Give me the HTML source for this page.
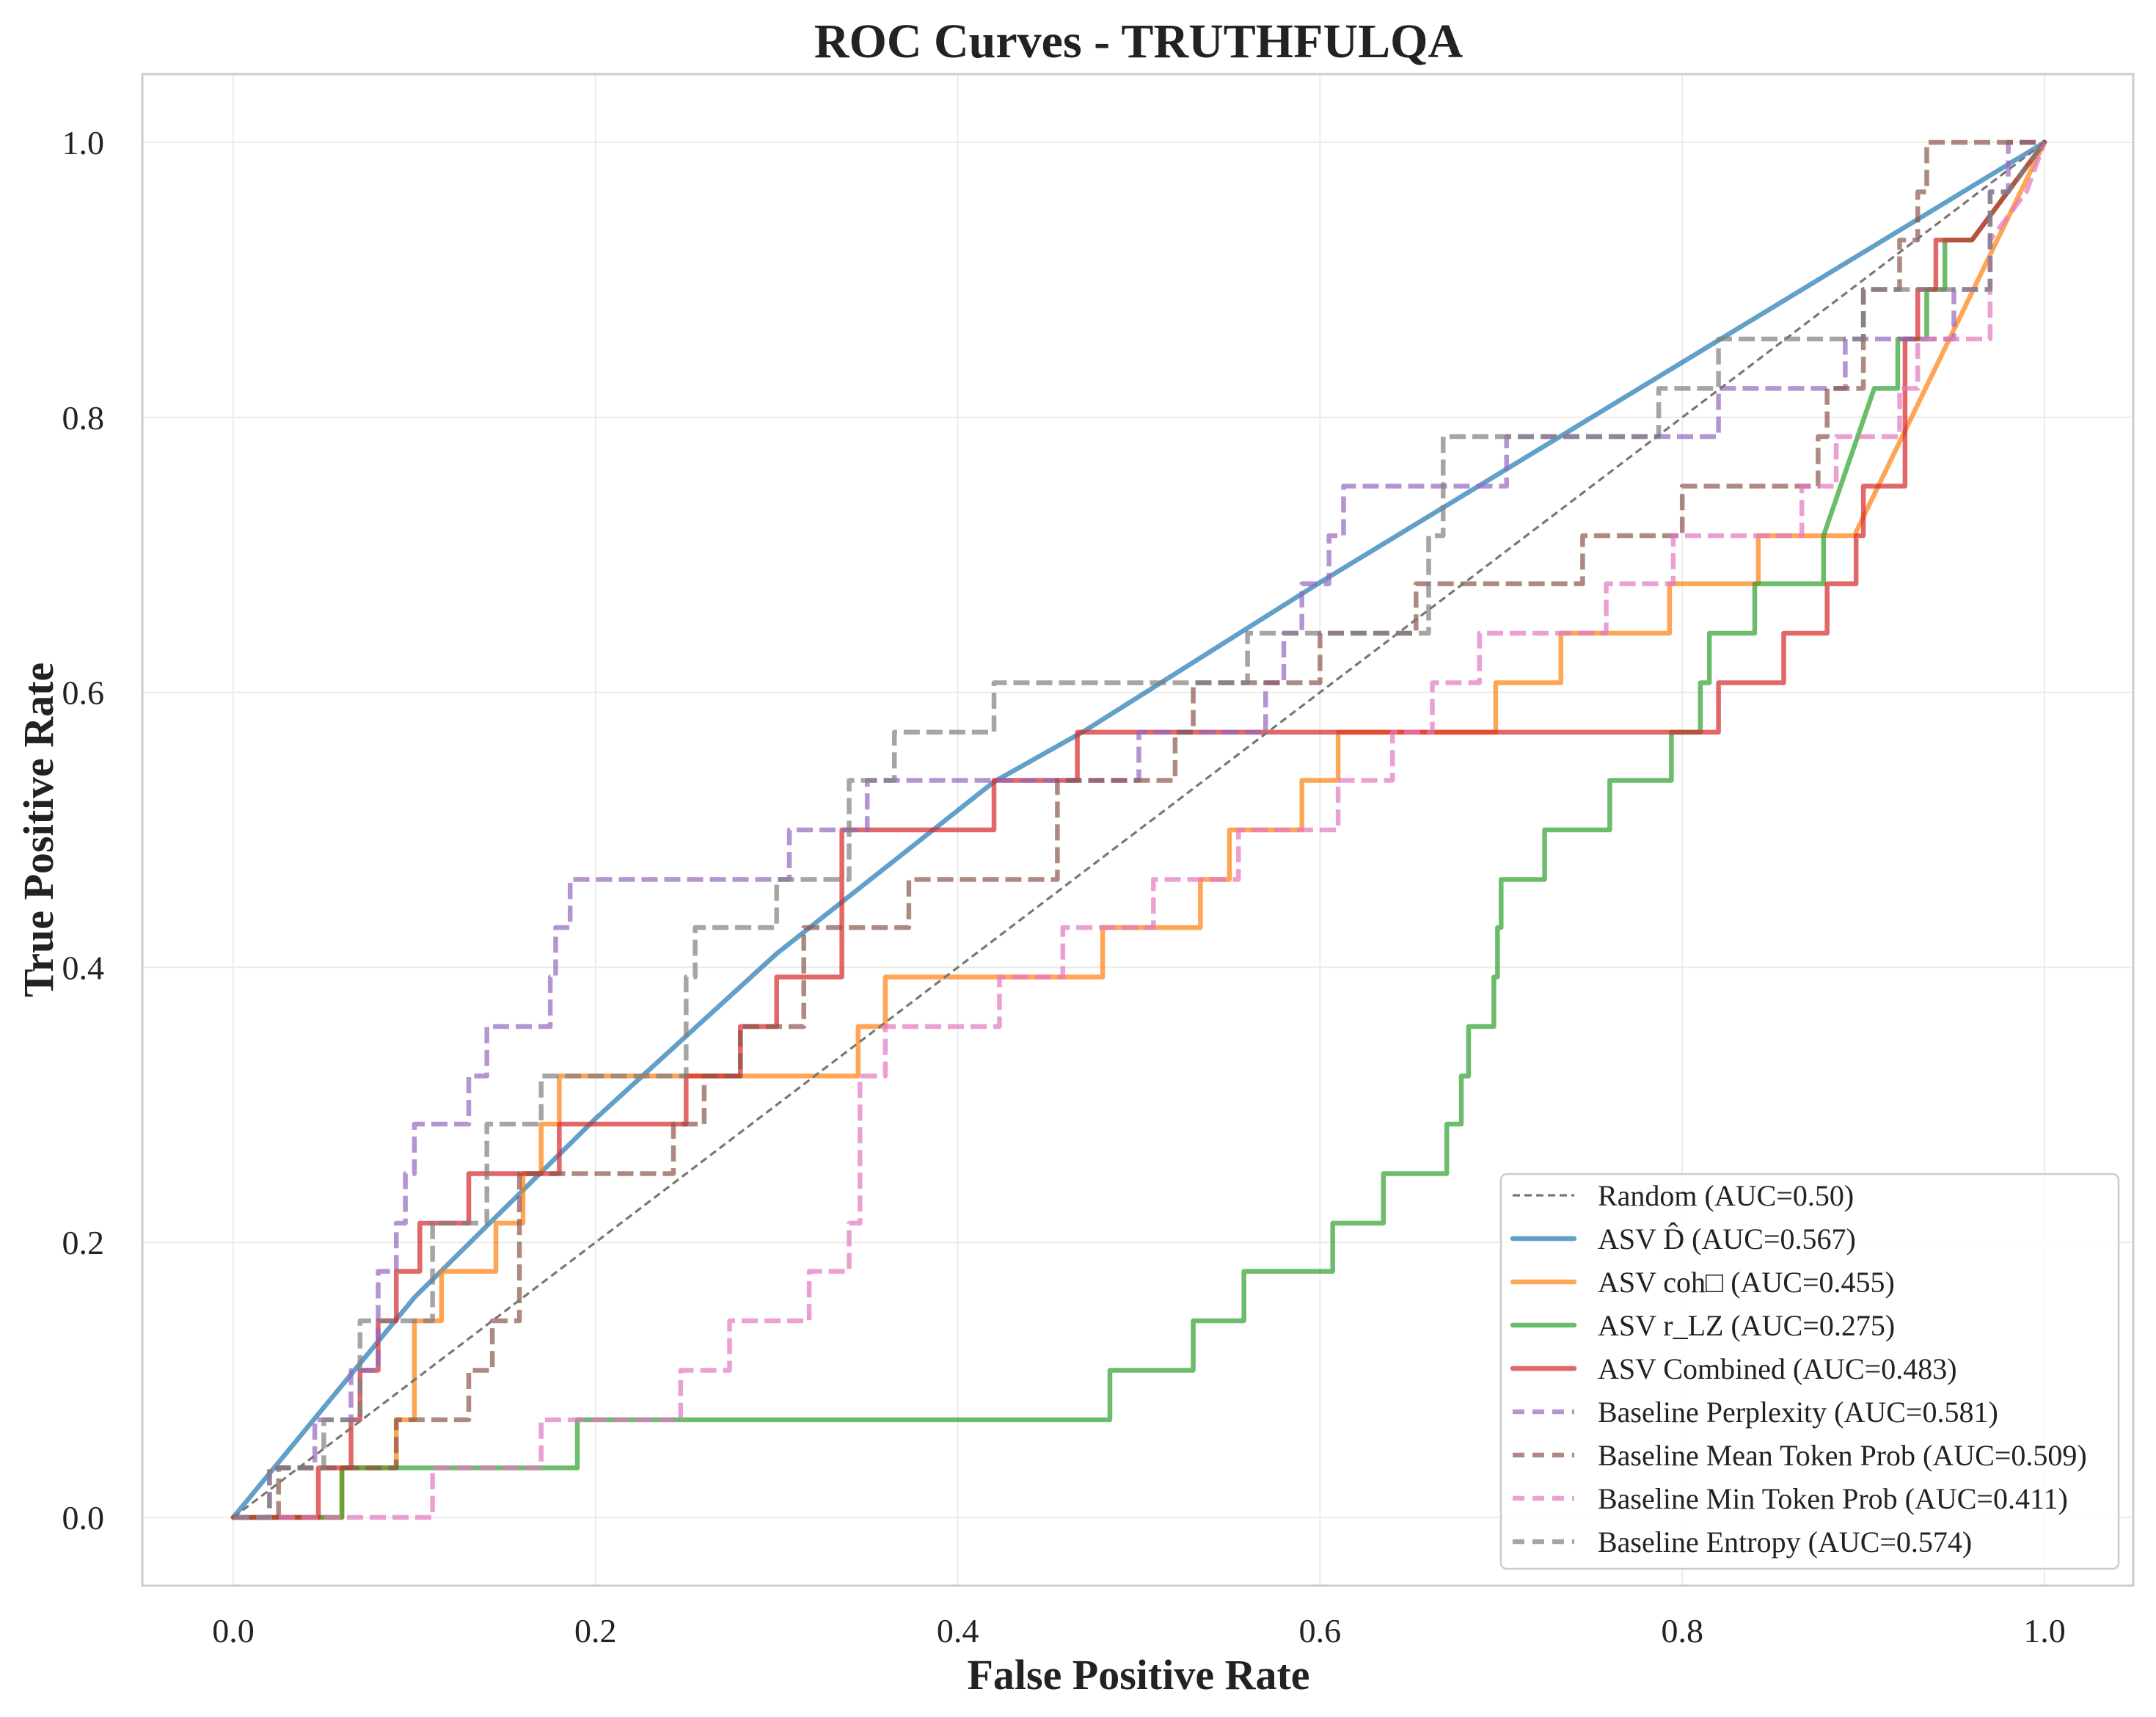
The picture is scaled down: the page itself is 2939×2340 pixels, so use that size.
<!DOCTYPE html>
<html><head><meta charset="utf-8"><style>
html,body{margin:0;padding:0;background:#fff}
svg{display:block;font-family:"Liberation Serif","DejaVu Serif",serif}
</style></head><body>
<svg id="chart" width="2939" height="2340" viewBox="0 0 2939 2340" xmlns="http://www.w3.org/2000/svg">
<rect x="0" y="0" width="2939" height="2340" fill="#fff"/>
<g id="grid"></g>
<g id="series"></g>
<rect x="194" y="101" width="2714" height="2060" fill="none" stroke="#cccccc" stroke-width="3"/>
<g id="ticks"></g>
<text x="1552" y="78" font-size="66" font-weight="bold" text-anchor="middle" fill="#222">ROC Curves - TRUTHFULQA</text>
<text x="1552" y="2302" font-size="58" font-weight="bold" text-anchor="middle" fill="#222">False Positive Rate</text>
<text transform="translate(72,1131) rotate(-90)" font-size="58" font-weight="bold" text-anchor="middle" fill="#222">True Positive Rate</text>
<g id="legend"></g>
</svg>
<script>
const xTicks=[0,0.2,0.4,0.6,0.8,1.0];
const yTicks=[0,0.2,0.4,0.6,0.8,1.0];
const seriesNames=["Random (AUC=0.50)","ASV D\u0302 (AUC=0.567)","ASV coh\u25A1 (AUC=0.455)","ASV r_LZ (AUC=0.275)","ASV Combined (AUC=0.483)","Baseline Perplexity (AUC=0.581)","Baseline Mean Token Prob (AUC=0.509)","Baseline Min Token Prob (AUC=0.411)","Baseline Entropy (AUC=0.574)"];
const randomFpr=[0,1];const randomTpr=[0,1];
const dFpr=[0,0.1,0.2,0.3,0.42,0.47,0.6,0.8,1];
const dTpr=[0,0.16,0.29,0.41,0.535,0.572,0.68,0.84,1];
const cohFpr=[0,0.06,0.06,0.09,0.09,0.1,0.1,0.115,0.115,0.145,0.145,0.16,0.16,0.17,0.17,0.18,0.18,0.345,0.345,0.36,0.36,0.48,0.48,0.534,0.534,0.55,0.55,0.59,0.59,0.61,0.61,0.697,0.697,0.733,0.733,0.793,0.793,0.842,0.842,0.878,0.895,1];
const cohTpr=[0,0,0.036,0.036,0.071,0.071,0.143,0.143,0.179,0.179,0.214,0.214,0.25,0.25,0.286,0.286,0.321,0.321,0.357,0.357,0.393,0.393,0.429,0.429,0.464,0.464,0.5,0.5,0.536,0.536,0.571,0.571,0.607,0.607,0.643,0.643,0.679,0.679,0.714,0.714,0.714,1];
const lzFpr=[0,0.06,0.06,0.19,0.19,0.484,0.484,0.53,0.53,0.558,0.558,0.607,0.607,0.635,0.635,0.67,0.67,0.678,0.678,0.682,0.682,0.696,0.696,0.698,0.698,0.7,0.7,0.724,0.724,0.76,0.76,0.794,0.794,0.81,0.81,0.815,0.815,0.84,0.84,0.878,0.878,0.906,0.906,0.919,0.919,0.935,0.935,0.945,0.945,0.96,1];
const lzTpr=[0,0,0.036,0.036,0.071,0.071,0.107,0.107,0.143,0.143,0.179,0.179,0.214,0.214,0.25,0.25,0.286,0.286,0.321,0.321,0.357,0.357,0.393,0.393,0.429,0.429,0.464,0.464,0.5,0.5,0.536,0.536,0.571,0.571,0.607,0.607,0.643,0.643,0.679,0.679,0.714,0.821,0.821,0.821,0.857,0.857,0.893,0.893,0.929,0.929,1];
const combFpr=[0,0.047,0.047,0.065,0.065,0.07,0.07,0.08,0.08,0.09,0.09,0.103,0.103,0.13,0.13,0.18,0.18,0.25,0.25,0.28,0.28,0.3,0.3,0.336,0.336,0.42,0.42,0.466,0.466,0.82,0.82,0.856,0.856,0.88,0.88,0.896,0.896,0.9,0.9,0.923,0.923,0.93,0.93,0.94,0.94,0.96,1];
const combTpr=[0,0,0.036,0.036,0.071,0.071,0.107,0.107,0.143,0.143,0.179,0.179,0.214,0.214,0.25,0.25,0.286,0.286,0.321,0.321,0.357,0.357,0.393,0.393,0.5,0.5,0.536,0.536,0.571,0.571,0.607,0.607,0.643,0.643,0.679,0.679,0.714,0.714,0.75,0.75,0.857,0.857,0.893,0.893,0.929,0.929,1];
const pplFpr=[0,0.02,0.02,0.045,0.045,0.065,0.065,0.08,0.08,0.09,0.09,0.095,0.095,0.1,0.1,0.13,0.13,0.14,0.14,0.175,0.175,0.178,0.178,0.186,0.186,0.307,0.307,0.35,0.35,0.5,0.5,0.57,0.57,0.58,0.58,0.59,0.59,0.605,0.605,0.613,0.613,0.703,0.703,0.82,0.82,0.89,0.89,0.95,0.95,0.97,0.97,0.98,0.98,1];
const pplTpr=[0,0,0.036,0.036,0.071,0.071,0.107,0.107,0.179,0.179,0.214,0.214,0.25,0.25,0.286,0.286,0.321,0.321,0.357,0.357,0.393,0.393,0.429,0.429,0.464,0.464,0.5,0.5,0.536,0.536,0.571,0.571,0.607,0.607,0.643,0.643,0.679,0.679,0.714,0.714,0.75,0.75,0.786,0.786,0.821,0.821,0.857,0.857,0.893,0.893,0.964,0.964,1,1];
const meanFpr=[0,0.025,0.025,0.09,0.09,0.13,0.13,0.143,0.143,0.158,0.158,0.243,0.243,0.26,0.26,0.28,0.28,0.315,0.315,0.373,0.373,0.455,0.455,0.52,0.52,0.53,0.53,0.6,0.6,0.653,0.653,0.745,0.745,0.8,0.8,0.875,0.875,0.88,0.88,0.9,0.9,0.92,0.92,0.93,0.93,0.935,0.935,1];
const meanTpr=[0,0,0.036,0.036,0.071,0.071,0.107,0.107,0.143,0.143,0.25,0.25,0.286,0.286,0.321,0.321,0.357,0.357,0.429,0.429,0.464,0.464,0.536,0.536,0.571,0.571,0.607,0.607,0.643,0.643,0.679,0.679,0.714,0.714,0.75,0.75,0.786,0.786,0.821,0.821,0.893,0.893,0.929,0.929,0.964,0.964,1,1];
const minFpr=[0,0.11,0.11,0.17,0.17,0.247,0.247,0.274,0.274,0.318,0.318,0.34,0.34,0.346,0.346,0.36,0.36,0.423,0.423,0.458,0.458,0.508,0.508,0.555,0.555,0.61,0.61,0.64,0.64,0.662,0.662,0.688,0.688,0.758,0.758,0.795,0.795,0.866,0.866,0.885,0.885,0.92,0.92,0.93,0.93,0.97,0.97,0.99,1];
const minTpr=[0,0,0.036,0.036,0.071,0.071,0.107,0.107,0.143,0.143,0.179,0.179,0.214,0.214,0.321,0.321,0.357,0.357,0.393,0.393,0.429,0.429,0.464,0.464,0.5,0.5,0.536,0.536,0.571,0.571,0.607,0.607,0.643,0.643,0.679,0.679,0.714,0.714,0.75,0.75,0.786,0.786,0.821,0.821,0.857,0.857,0.929,0.964,1];
const entFpr=[0,0.02,0.02,0.05,0.05,0.07,0.07,0.11,0.11,0.14,0.14,0.17,0.17,0.25,0.25,0.255,0.255,0.3,0.3,0.34,0.34,0.365,0.365,0.42,0.42,0.56,0.56,0.66,0.66,0.668,0.668,0.787,0.787,0.82,0.82,0.9,0.9,0.97,0.97,0.98,1];
const entTpr=[0,0,0.036,0.036,0.071,0.071,0.143,0.143,0.214,0.214,0.286,0.286,0.321,0.321,0.393,0.393,0.429,0.429,0.464,0.464,0.536,0.536,0.571,0.571,0.607,0.607,0.643,0.643,0.714,0.714,0.786,0.786,0.821,0.821,0.857,0.857,0.893,0.893,0.964,0.964,1];

const NS="http://www.w3.org/2000/svg";
const X0=318,X1=2787,Y0=2068,Y1=194;
function sx(v){return X0+(X1-X0)*v;}
function sy(v){return Y0+(Y1-Y0)*v;}
function mk(tag,attrs,parent){const e=document.createElementNS(NS,tag);for(const k in attrs)e.setAttribute(k,attrs[k]);parent.appendChild(e);return e;}
const grid=document.getElementById('grid'),ticks=document.getElementById('ticks'),ser=document.getElementById('series'),leg=document.getElementById('legend');
xTicks.forEach(t=>{
  const l=mk('line',{x1:sx(t),x2:sx(t),y1:101,y2:2161,stroke:'#ebebeb','stroke-width':2},grid);
  
  
  const tx=mk('text',{x:sx(t),y:2238,'font-size':46,'text-anchor':'middle',fill:'#222'},ticks);
  tx.textContent=t.toFixed(1);
  
  
});
yTicks.forEach(t=>{
  const l=mk('line',{x1:194,x2:2908,y1:sy(t),y2:sy(t),stroke:'#ebebeb','stroke-width':2},grid);
  
  
  const tx=mk('text',{x:142,y:sy(t)+16,'font-size':46,'text-anchor':'end',fill:'#222'},ticks);
  tx.textContent=t.toFixed(1);
  
  
});
const styles=[
 {f:randomFpr,t:randomTpr,c:'#777777',w:3.2,d:'10,6',o:1,name:'random-line'},
 {f:dFpr,t:dTpr,c:'#1f77b4',w:6.5,d:'',o:0.7,name:'asv-d-line'},
 {f:cohFpr,t:cohTpr,c:'#ff7f0e',w:6.5,d:'',o:0.7,name:'asv-coh-line'},
 {f:lzFpr,t:lzTpr,c:'#2ca02c',w:6.5,d:'',o:0.7,name:'asv-rlz-line'},
 {f:combFpr,t:combTpr,c:'#d62728',w:6.5,d:'',o:0.7,name:'asv-combined-line'},
 {f:pplFpr,t:pplTpr,c:'#9467bd',w:6.5,d:'22,9',o:0.7,name:'baseline-perplexity-line'},
 {f:meanFpr,t:meanTpr,c:'#8c564b',w:6.5,d:'22,9',o:0.7,name:'baseline-mean-token-prob-line'},
 {f:minFpr,t:minTpr,c:'#e377c2',w:6.5,d:'22,9',o:0.7,name:'baseline-min-token-prob-line'},
 {f:entFpr,t:entTpr,c:'#7f7f7f',w:6.5,d:'22,9',o:0.7,name:'baseline-entropy-line'}
];
const order=[1,2,3,4,5,6,7,8,0];
order.forEach(i=>{
  const s=styles[i];
  const pts=s.f.map((v,k)=>sx(v).toFixed(1)+','+sy(s.t[k]).toFixed(1)).join(' ');
  const p=mk('polyline',{points:pts,fill:'none',stroke:s.c,'stroke-width':s.w,'stroke-opacity':s.o,'stroke-linejoin':'round','stroke-linecap':s.d?'butt':'round'},ser);
  if(s.d)p.setAttribute('stroke-dasharray',s.d);
  
  
});
const box=mk('rect',{x:2046,y:1600,width:842,height:538,rx:8,fill:'#fff','fill-opacity':0.8,stroke:'#cccccc','stroke-width':2.5},leg);


styles.forEach((s,i)=>{
  const y=1629+i*59;
  const g=mk('g',{},leg);
  
  
  const l=mk('line',{x1:2062,x2:2146,y1:y,y2:y,stroke:s.c,'stroke-width':s.w,'stroke-opacity':s.o,'stroke-linecap':s.d?'butt':'round'},g);
  if(s.d)l.setAttribute('stroke-dasharray',i==0?'10,6':'16,11');
  
  
  const t=mk('text',{x:2178,y:y+14,'font-size':40,fill:'#222'},g);
  t.textContent=seriesNames[i];
  
  
});
</script>
</body></html>
